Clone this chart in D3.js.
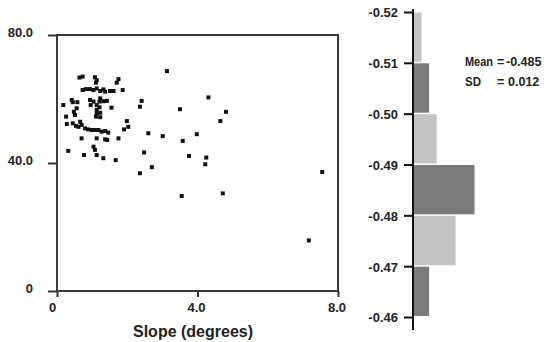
<!DOCTYPE html>
<html><head><meta charset="utf-8">
<script src="https://cdn.jsdelivr.net/npm/d3@7"></script>
<style>body{margin:0;background:#fff}svg{display:block}text{font-family:"Liberation Sans",Arial,sans-serif;font-weight:bold;fill:#222}</style>
</head><body>
<svg id="c" width="550" height="342"></svg>
<script>
// Scatter data: slope (degrees) vs value
const slopes = [
0.64,0.73,1.08,1.13,1.11,1.75,1.70,3.13,0.73,0.83,
0.94,1.04,1.13,1.23,1.32,1.37,1.51,1.61,1.87,0.94,
1.04,1.23,1.21,1.32,1.42,0.42,0.45,0.58,0.18,0.96,
1.13,1.21,1.55,2.41,2.36,3.50,0.56,0.48,0.51,1.13,
1.13,1.11,1.23,1.23,0.26,0.28,0.45,0.54,0.66,0.70,
0.61,0.80,0.89,0.99,1.08,1.18,1.27,1.37,1.46,1.99,
2.03,1.91,0.70,1.13,1.37,1.43,1.75,2.60,3.01,3.58,
3.98,0.32,0.77,1.13,1.32,1.67,1.04,1.08,2.48,3.76,
2.36,2.70,4.31,4.81,4.65,4.25,4.22,7.55,3.55,4.72,
7.17];
const values = [
66.7,67.0,66.8,65.9,65.1,66.2,65.1,68.7,62.8,63.1,
63.1,62.8,63.3,62.5,63.0,62.3,62.5,62.5,62.8,59.7,
59.2,60.2,59.2,59.3,59.4,59.7,59.0,59.0,58.1,58.1,
58.1,57.4,57.3,59.4,57.6,56.8,57.1,56.0,55.0,56.6,
55.5,54.5,55.7,54.3,54.5,52.2,52.4,51.6,52.9,51.9,
51.3,50.8,50.5,50.3,50.3,50.3,49.8,50.0,49.5,53.1,
51.3,50.5,47.7,47.7,47.4,47.2,47.7,49.3,48.4,46.9,
49.0,43.8,42.5,42.5,41.5,40.9,45.1,44.1,43.3,42.2,
36.8,38.7,60.5,56.0,53.1,41.7,39.6,37.2,29.7,30.5,
15.8];
const xTicks = [0, 4, 8];
const xTickLabels = ["0", "4.0", "8.0"];
const yTicks = [0, 40, 80];
const yTickLabels = ["0", "40.0", "80.0"];
const xTitle = "Slope (degrees)";

// Histogram data
const binStarts = [-0.52, -0.51, -0.50, -0.49, -0.48, -0.47];
const binCounts = [2, 4, 6, 16, 11, 4];
const histTicks = [-0.52, -0.51, -0.50, -0.49, -0.48, -0.47, -0.46];
const histTickLabels = ["-0.52", "-0.51", "-0.50", "-0.49", "-0.48", "-0.47", "-0.46"];
const statLabels = ["Mean", "SD"];
const statValues = ["-0.485", "0.012"];

const svg = d3.select("#c");
const x = d3.scaleLinear().domain([0, 8]).range([57, 338]);
const y = d3.scaleLinear().domain([0, 80]).range([291, 35]);

// frame
svg.append("rect").attr("x", x(0)).attr("y", y(80)).attr("width", x(8) - x(0)).attr("height", y(0) - y(80))
  .attr("fill", "none").attr("stroke", "#3a3a3a").attr("stroke-width", 2);

// y axis
const yAxis = svg.append("g").attr("transform", `translate(${x(0)},0)`)
  .call(d3.axisLeft(y).tickValues(yTicks).tickSize(9).tickPadding(0).tickFormat((d, i) => yTickLabels[i]));
yAxis.select(".domain").remove();
yAxis.selectAll(".tick line").attr("stroke", "#333").attr("stroke-width", 2);
yAxis.selectAll(".tick text").attr("x", -24).attr("dy", "0.1em").attr("font-size", 13).attr("fill", "#222");

// x axis
const xAxis = svg.append("g").attr("transform", `translate(0,${y(0)})`)
  .call(d3.axisBottom(x).tickValues(xTicks).tickSize(6).tickPadding(0).tickFormat((d, i) => xTickLabels[i]));
xAxis.select(".domain").remove();
xAxis.selectAll(".tick line").attr("stroke", "#333").attr("stroke-width", 2);
xAxis.selectAll(".tick text").attr("y", 12).attr("dx", (d, i) => i === 0 ? -5 : -1.5).attr("font-size", 13).attr("fill", "#222");

svg.append("text").attr("x", 193).attr("y", 337).attr("text-anchor", "middle").attr("font-size", 16).text(xTitle);

// points
svg.append("g").selectAll("rect").data(slopes).join("rect")
  .attr("x", (d) => x(d) - 2).attr("y", (d, i) => y(values[i]) - 2)
  .attr("width", 4).attr("height", 4).attr("fill", "#111");

// histogram
const hy = d3.scaleLinear().domain([-0.52, -0.46]).range([12, 317]);
const hx = d3.scaleLinear().domain([0, 16]).range([414, 474.5]);
svg.append("g").selectAll("rect").data(binStarts).join("rect")
  .attr("x", hx(0)).attr("y", (d) => hy(d) + 0.5)
  .attr("width", (d, i) => hx(binCounts[i]) - hx(0))
  .attr("height", (d) => hy(d + 0.01) - hy(d) - 1.5)
  .attr("fill", (d, i) => i % 2 === 0 ? "#c3c3c3" : "#7b7b7b");

const hAxis = svg.append("g").attr("transform", "translate(413,0)")
  .call(d3.axisLeft(hy).tickValues(histTicks).tickSize(9).tickPadding(6).tickFormat((d, i) => histTickLabels[i]));
hAxis.select(".domain").remove();
hAxis.selectAll(".tick line").attr("stroke", "#111").attr("stroke-width", 2);
hAxis.selectAll(".tick text").attr("font-size", 13).attr("fill", "#222").attr("dy", "0.38em");
svg.append("line").attr("x1", 413).attr("x2", 413).attr("y1", 9).attr("y2", 330).attr("stroke", "#111").attr("stroke-width", 2);

// stats text
const stats = svg.append("g");
statLabels.forEach((lab, i) => {
  const yy = 66 + i * 20;
  stats.append("text").attr("x", 465).attr("y", yy).attr("font-size", 12.5)
    .attr("textLength", i === 0 ? 28 : 16).attr("lengthAdjust", "spacingAndGlyphs").text(lab);
  stats.append("text").attr("x", 497).attr("y", yy).attr("font-size", 12.5).text("=");
  stats.append("text").attr("x", i === 0 ? 506 : 508).attr("y", yy).attr("font-size", 12.5).text(statValues[i]);
});
</script>
</body></html>
